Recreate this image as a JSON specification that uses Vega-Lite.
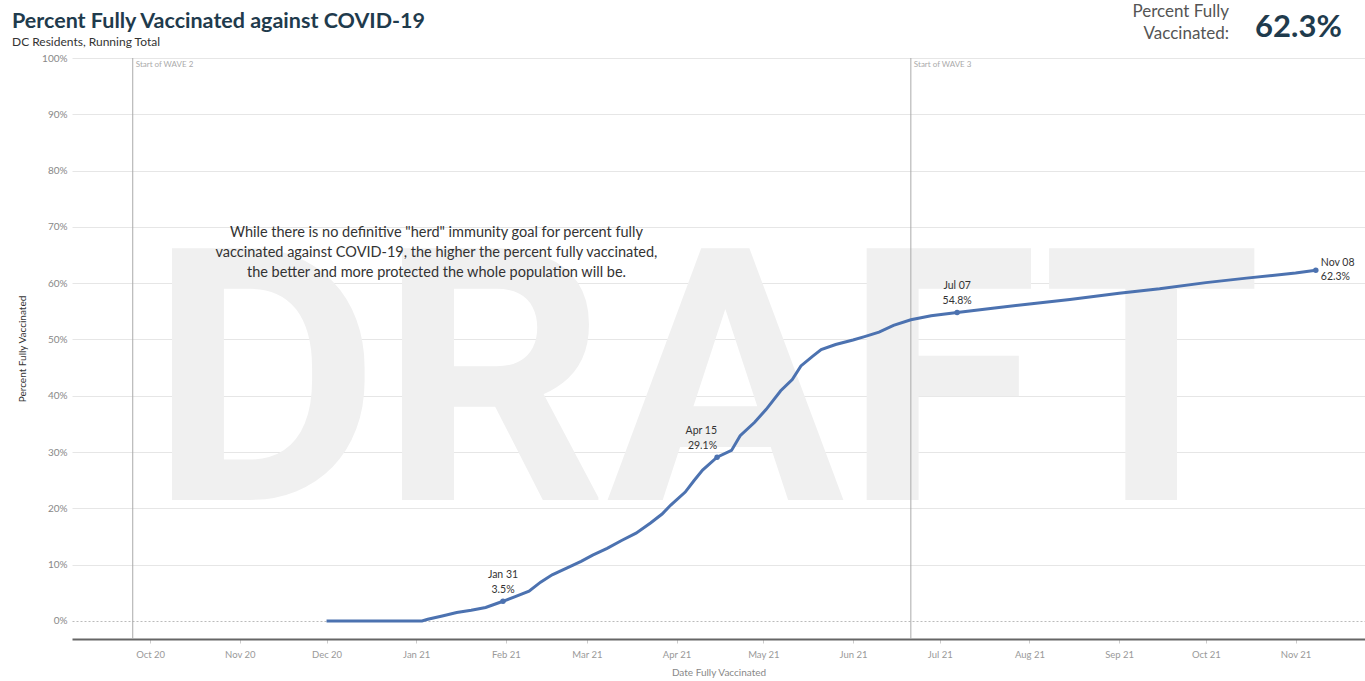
{
  "$schema": "https://vega.github.io/schema/vega-lite/v6.json",
  "width": 1293,
  "height": 581,
  "autosize": {"type": "none"},
  "padding": {"left": 72, "top": 58, "right": 0, "bottom": 42},
  "background": "white",
  "config": {"font": "Lato", "view": {"stroke": null}},
  "title": {
    "text": "Percent Fully Vaccinated against COVID-19",
    "subtitle": "DC Residents, Running Total",
    "anchor": "start",
    "frame": "group",
    "dx": -60,
    "offset": -45,
    "font": "Lato",
    "fontSize": 21.5,
    "fontWeight": "bold",
    "color": "#1f3b4d",
    "subtitleFont": "Lato",
    "subtitleFontSize": 12,
    "subtitleColor": "#333333",
    "subtitlePadding": 4
  },
  "datasets": {
    "series": [
      {"date": "2020-12-01", "pct": 0},
      {"date": "2020-12-15", "pct": 0},
      {"date": "2021-01-03", "pct": 0},
      {"date": "2021-01-05", "pct": 0.3},
      {"date": "2021-01-10", "pct": 0.9},
      {"date": "2021-01-15", "pct": 1.5},
      {"date": "2021-01-20", "pct": 1.9},
      {"date": "2021-01-25", "pct": 2.4},
      {"date": "2021-01-31", "pct": 3.5},
      {"date": "2021-02-04", "pct": 4.3},
      {"date": "2021-02-09", "pct": 5.3},
      {"date": "2021-02-13", "pct": 6.9},
      {"date": "2021-02-17", "pct": 8.2},
      {"date": "2021-02-22", "pct": 9.4},
      {"date": "2021-02-27", "pct": 10.6},
      {"date": "2021-03-03", "pct": 11.7},
      {"date": "2021-03-08", "pct": 12.9},
      {"date": "2021-03-13", "pct": 14.3},
      {"date": "2021-03-18", "pct": 15.6},
      {"date": "2021-03-23", "pct": 17.4},
      {"date": "2021-03-27", "pct": 19.0},
      {"date": "2021-03-30", "pct": 20.6},
      {"date": "2021-04-04", "pct": 22.9},
      {"date": "2021-04-07", "pct": 24.9},
      {"date": "2021-04-10", "pct": 26.8},
      {"date": "2021-04-15", "pct": 29.1},
      {"date": "2021-04-20", "pct": 30.3},
      {"date": "2021-04-23", "pct": 32.9},
      {"date": "2021-04-28", "pct": 35.3},
      {"date": "2021-05-02", "pct": 37.6},
      {"date": "2021-05-07", "pct": 40.9},
      {"date": "2021-05-11", "pct": 42.9},
      {"date": "2021-05-14", "pct": 45.3},
      {"date": "2021-05-18", "pct": 47.0},
      {"date": "2021-05-21", "pct": 48.2},
      {"date": "2021-05-26", "pct": 49.1},
      {"date": "2021-06-01", "pct": 49.9},
      {"date": "2021-06-05", "pct": 50.5},
      {"date": "2021-06-10", "pct": 51.3},
      {"date": "2021-06-15", "pct": 52.5},
      {"date": "2021-06-21", "pct": 53.5},
      {"date": "2021-06-28", "pct": 54.2},
      {"date": "2021-07-07", "pct": 54.8},
      {"date": "2021-07-20", "pct": 55.6},
      {"date": "2021-08-01", "pct": 56.3},
      {"date": "2021-08-15", "pct": 57.1},
      {"date": "2021-09-01", "pct": 58.2},
      {"date": "2021-09-15", "pct": 59.0},
      {"date": "2021-10-01", "pct": 60.1},
      {"date": "2021-10-15", "pct": 60.9},
      {"date": "2021-11-01", "pct": 61.8},
      {"date": "2021-11-08", "pct": 62.3}
    ],
    "callouts": [
      {"date": "2021-01-31", "pct": 3.5, "label": "Jan 31\n3.5%"},
      {"date": "2021-04-15", "pct": 29.1, "label": "Apr 15\n29.1%"},
      {"date": "2021-07-07", "pct": 54.8, "label": "Jul 07\n54.8%"},
      {"date": "2021-11-08", "pct": 62.3, "label": "Nov 08\n62.3%"}
    ],
    "waves": [
      {"date": "2020-09-25", "label": "Start of WAVE 2"},
      {"date": "2021-06-21", "label": "Start of WAVE 3"}
    ]
  },
  "encoding": {
    "x": {
      "field": "date",
      "type": "temporal",
      "title": "Date Fully Vaccinated",
      "scale": {
        "type": "utc",
        "domain": [
          {"year": 2020, "month": 9, "date": 4, "utc": true},
          {"year": 2021, "month": 11, "date": 25, "utc": true}
        ]
      },
      "axis": {
        "format": "%b %y",
        "tickCount": {"interval": "month", "step": 1},
        "grid": false,
        "domainColor": "#666666",
        "domainWidth": 2,
        "tickColor": "#cccccc",
        "tickSize": 4,
        "labelColor": "#999999",
        "labelFontSize": 9.5,
        "labelPadding": 6,
        "labelFlush": false,
        "titleColor": "#888888",
        "titleFontSize": 10,
        "titleFontWeight": "normal",
        "titlePadding": 9
      }
    }
  },
  "layer": [
    {
      "data": {"values": [{"date": "2021-04-11", "pct": 21.5, "t": "DRAFT"}]},
      "mark": {"type": "text", "font": "Roboto", "fontWeight": "bold", "fontSize": 354, "color": "#f0f0f0", "align": "center", "baseline": "alphabetic"},
      "encoding": {
        "y": {
          "field": "pct",
          "type": "quantitative",
          "title": "Percent Fully Vaccinated",
          "scale": {"domain": [-3.2, 100], "nice": false, "zero": false},
          "axis": {
            "values": [0, 10, 20, 30, 40, 50, 60, 70, 80, 90, 100],
            "labelExpr": "datum.value + '%'",
            "domain": false,
            "ticks": false,
            "gridColor": {"condition": {"test": "datum.value === 0", "value": "#bbbbbb"}, "value": "#e6e6e6"},
            "gridDash": {"condition": {"test": "datum.value === 0", "value": [2, 2]}, "value": []},
            "labelColor": "#888888",
            "labelFontSize": 10,
            "labelPadding": 5,
            "titleColor": "#333333",
            "titleFontSize": 10,
            "titleFontWeight": "normal",
            "titlePadding": 14
          }
        },
        "text": {"field": "t"}
      }
    },
    {
      "data": {"name": "waves"},
      "mark": {"type": "rule", "color": "#aaaaaa", "strokeWidth": 1},
      "encoding": {}
    },
    {
      "data": {"name": "waves"},
      "mark": {"type": "text", "align": "left", "baseline": "top", "dx": 3, "dy": 3, "fontSize": 8, "color": "#aaaaaa"},
      "encoding": {
        "y": {"datum": 100, "type": "quantitative"},
        "text": {"field": "label"}
      }
    },
    {
      "data": {"values": [{"date": "2021-01-08", "pct": 70.2, "t": "While there is no definitive \"herd\" immunity goal for percent fully\nvaccinated against COVID-19, the higher the percent fully vaccinated,\nthe better and more protected the whole population will be."}]},
      "mark": {"type": "text", "lineBreak": "\n", "lineHeight": 20, "align": "center", "baseline": "top", "fontSize": 14.5, "color": "#333333"},
      "encoding": {
        "y": {"field": "pct", "type": "quantitative"},
        "text": {"field": "t"}
      }
    },
    {
      "data": {"name": "series"},
      "mark": {"type": "line", "color": "#4c72b0", "strokeWidth": 3},
      "encoding": {
        "y": {"field": "pct", "type": "quantitative"}
      }
    },
    {
      "data": {"name": "callouts"},
      "mark": {"type": "point", "filled": true, "color": "#4c72b0", "size": 30, "opacity": 1},
      "encoding": {
        "y": {"field": "pct", "type": "quantitative"}
      }
    },
    {
      "data": {"name": "callouts"},
      "transform": [{"filter": "datum.label == 'Jan 31\\n3.5%' || datum.label == 'Jul 07\\n54.8%'"}],
      "mark": {"type": "text", "lineBreak": "\n", "lineHeight": 15, "align": "center", "baseline": "bottom", "dy": -21, "fontSize": 10.5, "color": "#333333"},
      "encoding": {
        "y": {"field": "pct", "type": "quantitative"},
        "text": {"field": "label"}
      }
    },
    {
      "data": {"name": "callouts"},
      "transform": [{"filter": "datum.label == 'Apr 15\\n29.1%'"}],
      "mark": {"type": "text", "lineBreak": "\n", "lineHeight": 15, "align": "right", "baseline": "bottom", "dy": -21, "fontSize": 10.5, "color": "#333333"},
      "encoding": {
        "y": {"field": "pct", "type": "quantitative"},
        "text": {"field": "label"}
      }
    },
    {
      "data": {"name": "callouts"},
      "transform": [{"filter": "datum.label == 'Nov 08\\n62.3%'"}],
      "mark": {"type": "text", "lineBreak": "\n", "lineHeight": 14, "align": "left", "baseline": "middle", "dx": 5, "dy": -7, "fontSize": 10.5, "color": "#333333"},
      "encoding": {
        "y": {"field": "pct", "type": "quantitative"},
        "text": {"field": "label"}
      }
    },
    {
      "data": {"values": [{"date": "2021-10-09", "pct": 108.2, "t": "Percent Fully\nVaccinated:"}]},
      "mark": {"type": "text", "lineBreak": "\n", "lineHeight": 22, "align": "right", "baseline": "middle", "fontSize": 17, "color": "#555555"},
      "encoding": {
        "y": {"field": "pct", "type": "quantitative"},
        "text": {"field": "t"}
      }
    },
    {
      "data": {"values": [{"date": "2021-10-18", "pct": 105.3, "value": "62.3%"}]},
      "mark": {"type": "text", "align": "left", "baseline": "middle", "fontSize": 31, "fontWeight": "bold", "color": "#1f3b4d"},
      "encoding": {
        "y": {"field": "pct", "type": "quantitative"},
        "text": {"field": "value"}
      }
    }
  ]
}
